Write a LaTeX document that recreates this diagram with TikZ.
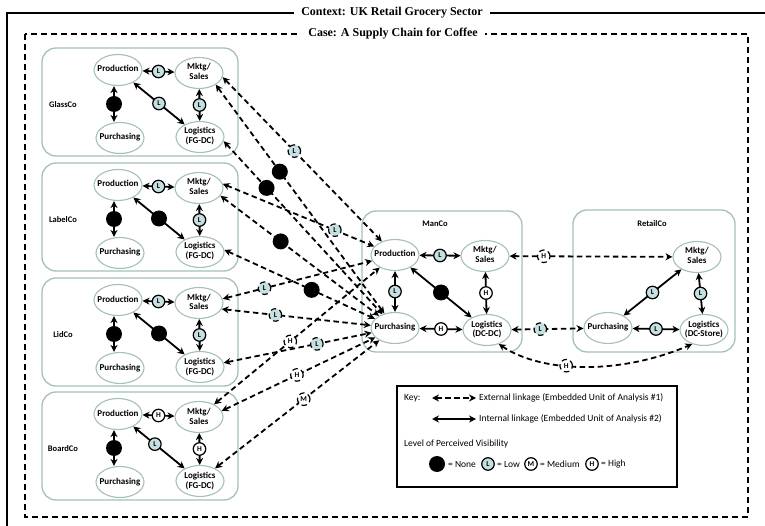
\documentclass[tikz,border=0pt]{standalone}
\usepackage{fontspec}
\setmainfont{Carlito}
\newfontfamily\titlefont{Liberation Serif}
\usetikzlibrary{shapes.geometric,arrows.meta}

\definecolor{cogrey}{RGB}{165,192,186}
\definecolor{lowblue}{RGB}{198,224,226}

% text of a unit, centred and free to run over the ellipse
\newcommand{\ut}[1]{\makebox[0pt]{\begin{tabular}{@{}c@{}}#1\end{tabular}}}

\tikzset{
  cobox/.style={draw=cogrey, line width=1.3pt, rounded corners=14pt},
  unit/.style={ellipse, draw=cogrey, line width=1.1pt, fill=white, minimum width=48pt,
    minimum height=31pt, inner sep=0pt, font=\bfseries\fontsize{9}{10}\selectfont},
  coname/.style={font=\bfseries\fontsize{8.5}{9.5}\selectfont},
  title/.style={fill=white, inner xsep=7pt, inner ysep=1pt,
    font=\titlefont\bfseries\fontsize{12}{13}\selectfont},
  keytext/.style={anchor=west, inner sep=1pt, font=\fontsize{9.5}{11}\selectfont},
  badge/.style={circle, draw, line width=1.2pt, inner sep=0pt, minimum size=12.5pt,
    font=\bfseries\fontsize{7.5}{8}\selectfont},
  visL/.style={badge, fill=lowblue},
  visM/.style={badge, fill=white},
  visH/.style={badge, fill=white},
  visN/.style={circle, fill=black, inner sep=0pt, minimum size=16pt,
    execute at begin node={\setbox0\hbox\bgroup}, execute at end node={\egroup}},
  intl/.style={line width=1.8pt, {Stealth[length=7pt,width=7pt]}-{Stealth[length=7pt,width=7pt]}},
  extl/.style={intl, dash pattern=on 5.5pt off 3.5pt},
}

\begin{document}
\begin{tikzpicture}[x=1pt, y=-1pt]
\useasboundingbox (0,0) rectangle (765,526);
\clip (0,0) rectangle (765,526);

% context and case frames
\draw[line width=2.2pt] (7,560) -- (7,13) -- (800,13);
\node[title] (ctx) at (392,13) {Context: UK Retail Grocery Sector};
\draw[line width=2.4pt, dash pattern=on 6pt off 4pt] (25,34) rectangle (748,517);
\node[title] (case) at (393,34) {Case: A Supply Chain for Coffee};

% suppliers
\foreach \i/\co/\ty/\ba/\bb/\bc/\bd/\q in {1/GlassCo/48/L/N/L/L/0.5, 2/LabelCo/163/L/N/N/L/0.5,
    3/LidCo/278/L/N/N/L/0.5, 4/BoardCo/392/H/N/L/H/0.42}{
  \draw[cobox] (42,\ty) rectangle (238,\ty+108);
  \node[coname] (C\i) at (63,\ty+57) {\co};
  \node[unit] (Pr\i) at (118,\ty+22) {\ut{Production}};
  \node[unit] (Mk\i) at (199,\ty+25) {\ut{Mktg/\\Sales}};
  \node[unit] (Pu\i) at (120,\ty+90) {\ut{Purchasing}};
  \node[unit] (Lo\i) at (200,\ty+89) {\ut{Logistics\\(FG-DC)}};
  \draw[intl] (Pr\i) -- node[vis\ba]{\ba} (Mk\i);
  \draw[intl] ([xshift=-4pt]Pr\i.south) -- node[vis\bb]{\bb} ([xshift=-6pt]Pu\i.north);
  \draw[intl] (Pr\i) -- node[pos=\q, vis\bc]{\bc} (Lo\i);
  \draw[intl] (Mk\i) -- node[vis\bd]{\bd} (Lo\i);
}

% manufacturer
\draw[cobox] (362,211) rectangle (522,352);
\node[coname] (man) at (435,224) {ManCo};
\node[unit] (mPr) at (395,255) {\ut{Production}};
\node[unit] (mMk) at (485,256) {\ut{Mktg/\\Sales}};
\node[unit] (mPu) at (395,328) {\ut{Purchasing}};
\node[unit] (mLo) at (487,330) {\ut{Logistics\\(DC-DC)}};
\draw[intl] (mPr) -- node[visL]{L} (mMk);
\draw[intl] (mPr) -- node[visL]{L} (mPu);
\draw[intl] (mPr) -- node[visN]{} (mLo);
\draw[intl] (mMk) -- node[visH]{H} (mLo);
\draw[intl] (mPu) -- node[visH]{H} (mLo);

% retailer
\draw[cobox] (573,210) rectangle (735,352);
\node[coname] (retail) at (652,224) {RetailCo};
\node[unit] (rMk) at (697,257) {\ut{Mktg/\\Sales}};
\node[unit] (rPu) at (608,328) {\ut{Purchasing}};
\node[unit] (rLo) at (704,330) {\ut{Logistics\\(DC-Store)}};
\draw[intl] (rMk) -- node[visL]{L} (rPu);
\draw[intl] (rMk) -- node[visL]{L} (rLo);
\draw[intl] (rPu) -- node[visL]{L} (rLo);

% external linkages
\foreach \a/\b/\v/\p in {Mk1.-10/mPr/L/0.45, Mk1.-35/mPu/N/0.38, Lo1.-10/mPu/N/0.27,
    Mk2.10/mPr/L/0.74, Mk2.-20/mPu/N/0.38, Lo2.5/mPu/N/0.58,
    Mk3.10/mPr/L/0.28, Mk3.-15/mPu/L/0.36, Lo3.10/mPu/L/0.63,
    Mk4.40/mPr/H/0.46, Mk4.15/mPu/H/0.49, Lo4.40/mPu/M/0.54}
  \draw[extl] (\a) -- node[pos=\p, vis\v]{\v} (\b);
\draw[extl] (mMk) -- node[pos=0.21, visH]{H} (rMk);
\draw[extl] (mLo) -- node[pos=0.4, visL]{L} (rPu);
\draw[extl] (mLo.-50) .. controls +(45,30) and +(-70,30) .. node[pos=0.4, visH]{H} (rLo.-130);

% key
\draw[line width=1.8pt] (397,386) rectangle (677,487);
\node[keytext] (key) at (403,398) {Key:};
\coordinate (e1) at (432,398);
\coordinate (e2) at (476,398);
\draw[extl] (e1) -- (e2);
\node[keytext] (ext) at (478,398) {External linkage (Embedded Unit of Analysis \#1)};
\coordinate (i1) at (432,419);
\coordinate (i2) at (476,419);
\draw[intl] (i1) -- (i2);
\node[keytext] (int) at (478,419) {Internal linkage (Embedded Unit of Analysis \#2)};
\node[keytext] (lvl) at (403,444) {Level of Perceived Visibility};
\node[visN] (kN) at (437,464) {};
\node[keytext] (kNt) at (447,464) {= None};
\node[visL] (kL) at (488,464) {L};
\node[keytext] (kLt) at (496,464) {= Low};
\node[visM] (kM) at (531,464) {M};
\node[keytext] (kMt) at (539,464) {= Medium};
\node[visH] (kH) at (592,464) {H};
\node[keytext] (kHt) at (600,464) {= High};
\end{tikzpicture}
\end{document}
